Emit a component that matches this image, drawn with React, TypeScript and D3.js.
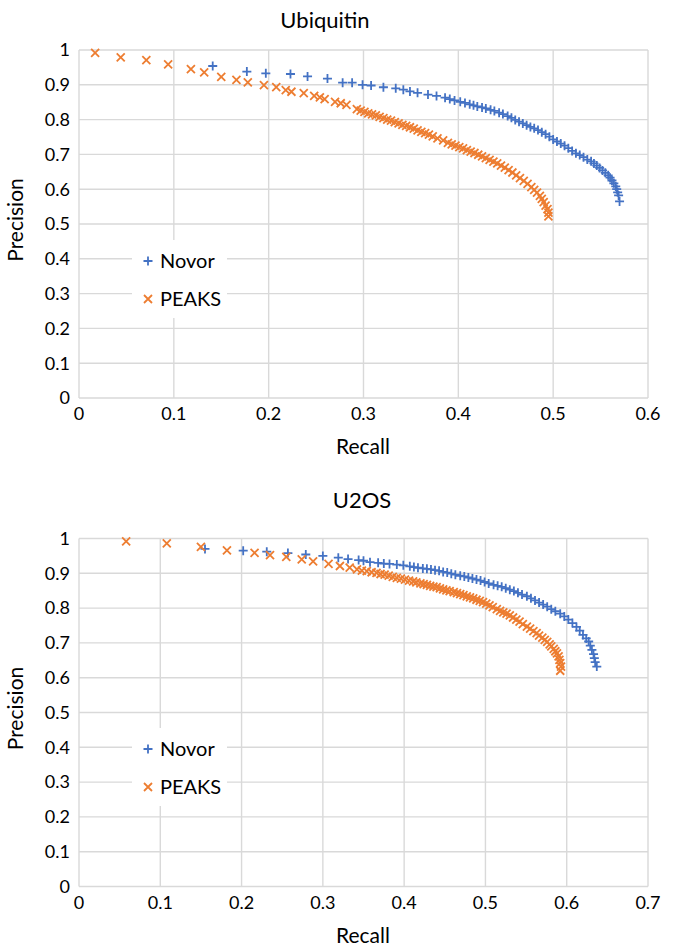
import React from "react";
import * as d3 from "d3";

// ---- Data (recall, precision) ----
const ubiNovor: [number, number][] = [
  [0.141,0.954],[0.177,0.938],[0.197,0.933],[0.223,0.931],[0.241,0.924],[0.262,0.918],[0.278,0.906],[0.288,0.906],
  [0.299,0.900],[0.308,0.898],[0.321,0.893],[0.334,0.890],[0.342,0.886],[0.349,0.881],[0.357,0.877],[0.368,0.872],
  [0.377,0.868],[0.386,0.863],[0.391,0.859],[0.396,0.855],[0.402,0.851],[0.407,0.848],[0.412,0.844],[0.416,0.841],
  [0.420,0.838],[0.425,0.835],[0.429,0.832],[0.434,0.828],[0.438,0.825],[0.443,0.820],[0.447,0.816],[0.452,0.810],
  [0.456,0.805],[0.460,0.799],[0.464,0.794],[0.468,0.789],[0.472,0.784],[0.476,0.779],[0.480,0.775],[0.484,0.770],
  [0.488,0.764],[0.492,0.758],[0.496,0.751],[0.500,0.743],[0.504,0.737],[0.508,0.731],[0.512,0.725],[0.516,0.718],
  [0.520,0.710],[0.524,0.703],[0.528,0.698],[0.532,0.692],[0.536,0.685],[0.540,0.680],[0.543,0.674],[0.546,0.668],
  [0.549,0.661],[0.552,0.654],[0.555,0.647],[0.558,0.640],[0.560,0.633],[0.562,0.625],[0.564,0.617],[0.566,0.608],
  [0.567,0.600],[0.568,0.591],[0.569,0.582],[0.570,0.565],
];

const ubiPeaks: [number, number][] = [
  [0.017,0.992],[0.044,0.979],[0.071,0.971],[0.094,0.959],[0.118,0.945],[0.132,0.936],[0.150,0.923],[0.166,0.914],
  [0.178,0.907],[0.195,0.899],[0.208,0.893],[0.218,0.885],[0.224,0.880],[0.237,0.876],[0.248,0.868],[0.254,0.864],
  [0.259,0.859],[0.270,0.851],[0.276,0.847],[0.282,0.842],[0.293,0.830],[0.297,0.826],[0.301,0.822],[0.305,0.818],
  [0.309,0.815],[0.313,0.812],[0.317,0.808],[0.321,0.804],[0.325,0.800],[0.329,0.797],[0.333,0.793],[0.337,0.789],
  [0.341,0.785],[0.345,0.782],[0.349,0.778],[0.353,0.774],[0.357,0.769],[0.361,0.765],[0.365,0.761],[0.369,0.757],
  [0.373,0.752],[0.378,0.746],[0.384,0.740],[0.389,0.733],[0.393,0.729],[0.397,0.725],[0.401,0.721],[0.405,0.717],
  [0.409,0.712],[0.413,0.708],[0.417,0.704],[0.421,0.699],[0.425,0.694],[0.429,0.689],[0.433,0.684],[0.437,0.679],
  [0.441,0.674],[0.445,0.668],[0.449,0.662],[0.453,0.655],[0.457,0.648],[0.461,0.640],[0.465,0.632],[0.469,0.624],
  [0.473,0.615],[0.477,0.606],[0.480,0.598],[0.483,0.590],[0.486,0.581],[0.488,0.572],[0.490,0.563],[0.492,0.553],
  [0.494,0.543],[0.495,0.533],[0.495,0.522],
];

const u2osNovor: [number, number][] = [
  [0.155,0.970],[0.202,0.965],[0.231,0.962],[0.257,0.958],[0.279,0.954],[0.300,0.950],[0.319,0.945],[0.331,0.941],
  [0.344,0.938],[0.350,0.936],[0.358,0.932],[0.368,0.930],[0.375,0.928],[0.382,0.927],[0.391,0.925],[0.399,0.923],
  [0.407,0.920],[0.412,0.918],[0.417,0.916],[0.423,0.914],[0.428,0.913],[0.433,0.911],[0.438,0.909],[0.443,0.907],
  [0.448,0.904],[0.453,0.902],[0.458,0.899],[0.463,0.896],[0.469,0.893],[0.474,0.891],[0.479,0.888],[0.484,0.885],
  [0.489,0.882],[0.494,0.879],[0.499,0.875],[0.504,0.871],[0.510,0.867],[0.515,0.864],[0.520,0.861],[0.525,0.857],
  [0.530,0.853],[0.535,0.849],[0.540,0.844],[0.545,0.839],[0.551,0.834],[0.556,0.828],[0.561,0.822],[0.566,0.816],
  [0.571,0.810],[0.576,0.804],[0.581,0.797],[0.586,0.791],[0.592,0.784],[0.597,0.776],[0.602,0.767],[0.607,0.757],
  [0.612,0.746],[0.616,0.735],[0.620,0.723],[0.624,0.713],[0.627,0.704],[0.629,0.692],[0.631,0.680],[0.633,0.668],
  [0.634,0.656],[0.635,0.645],[0.637,0.632],
];

const u2osPeaks: [number, number][] = [
  [0.058,0.992],[0.108,0.986],[0.150,0.976],[0.182,0.966],[0.216,0.959],[0.235,0.952],[0.255,0.947],[0.274,0.940],
  [0.288,0.934],[0.307,0.927],[0.321,0.921],[0.333,0.916],[0.342,0.911],[0.348,0.908],[0.354,0.906],[0.360,0.903],
  [0.366,0.901],[0.371,0.898],[0.376,0.896],[0.381,0.893],[0.386,0.890],[0.391,0.887],[0.396,0.885],[0.401,0.882],
  [0.406,0.879],[0.411,0.877],[0.415,0.874],[0.420,0.871],[0.424,0.869],[0.428,0.867],[0.432,0.864],[0.436,0.862],
  [0.440,0.860],[0.444,0.857],[0.448,0.854],[0.452,0.851],[0.456,0.849],[0.461,0.846],[0.465,0.843],[0.469,0.840],
  [0.473,0.837],[0.477,0.834],[0.481,0.831],[0.485,0.828],[0.489,0.824],[0.493,0.821],[0.497,0.817],[0.501,0.813],
  [0.505,0.808],[0.509,0.803],[0.514,0.797],[0.518,0.792],[0.522,0.788],[0.526,0.784],[0.530,0.779],[0.534,0.773],
  [0.538,0.767],[0.542,0.761],[0.546,0.754],[0.551,0.747],[0.555,0.741],[0.559,0.734],[0.563,0.728],[0.566,0.721],
  [0.570,0.715],[0.573,0.709],[0.576,0.703],[0.579,0.696],[0.581,0.690],[0.584,0.683],[0.586,0.676],[0.588,0.670],
  [0.590,0.661],[0.591,0.651],[0.592,0.642],[0.593,0.632],[0.592,0.620],
];

const seriesNames = ["Novor", "PEAKS"];
const chartTitles = ["Ubiquitin", "U2OS"];
const xMaxes = [0.6, 0.7];
const yTicks = [0, 0.1, 0.2, 0.3, 0.4, 0.5, 0.6, 0.7, 0.8, 0.9, 1];

const BLUE = "#4472C4";
const ORANGE = "#ED7D31";
const GRID = "#d9d9d9";
const FONT = "Lato, 'Open Sans', sans-serif";

const fmt = (v: number) => String(+v.toFixed(1));

function Plus({ x, y }: { x: number; y: number }) {
  const s = 4.5;
  return (
    <path d={`M${x - s},${y}H${x + s}M${x},${y - s}V${y + s}`} stroke={BLUE} strokeWidth={1.8} fill="none" />
  );
}
function Cross({ x, y }: { x: number; y: number }) {
  const s = 4;
  return (
    <path d={`M${x - s},${y - s}L${x + s},${y + s}M${x - s},${y + s}L${x + s},${y - s}`} stroke={ORANGE} strokeWidth={1.8} fill="none" />
  );
}

type PanelProps = {
  title: string;
  titleX: number;
  titleY: number;
  top: number;
  bottom: number;
  xMax: number;
  novor: [number, number][];
  peaks: [number, number][];
  legendY: number;
};

function Panel({ title, titleX, titleY, top, bottom, xMax, novor, peaks, legendY }: PanelProps) {
  const left = 79, right = 648;
  const x = d3.scaleLinear().domain([0, xMax]).range([left, right]);
  const y = d3.scaleLinear().domain([0, 1]).range([bottom, top]);
  const xTicks = d3.range(0, Math.round(xMax * 10) + 1).map((i) => i / 10);
  return (
    <g>
      <text x={titleX} y={titleY} textAnchor="middle" fontSize={22} fill="#000" fontFamily={FONT}>{title}</text>
      {yTicks.map((t) => (
        <line key={"gy" + t} x1={left} x2={right} y1={y(t)} y2={y(t)} stroke={GRID} strokeWidth={1.4} />
      ))}
      {xTicks.map((t) => (
        <line key={"gx" + t} x1={x(t)} x2={x(t)} y1={top} y2={bottom} stroke={GRID} strokeWidth={1.4} />
      ))}
      {yTicks.map((t) => (
        <text key={"ty" + t} x={left - 9} y={y(t)} dy="0.35em" textAnchor="end" fontSize={18} fill="#000" fontFamily={FONT}>{fmt(t)}</text>
      ))}
      {xTicks.map((t) => (
        <text key={"tx" + t} x={x(t)} y={bottom + 22} textAnchor="middle" fontSize={18} fill="#000" fontFamily={FONT}>{fmt(t)}</text>
      ))}
      <text x={363} y={bottom + 56} textAnchor="middle" fontSize={21} fill="#000" fontFamily={FONT}>Recall</text>
      <text transform={`translate(23,${(top + bottom) / 2 - 4}) rotate(-90)`} textAnchor="middle" fontSize={21} fill="#000" fontFamily={FONT}>Precision</text>
      {novor.map(([r, p], i) => <Plus key={"n" + i} x={x(r)} y={y(p)} />)}
      {peaks.map(([r, p], i) => <Cross key={"p" + i} x={x(r)} y={y(p)} />)}
      <rect x={132} y={legendY - 21} width={95} height={78} fill="#fff" />
      <Plus x={148} y={legendY} />
      <text x={160} y={legendY} dy="0.35em" fontSize={20} fill="#000" fontFamily={FONT}>{seriesNames[0]}</text>
      <Cross x={148} y={legendY + 38} />
      <text x={160} y={legendY + 38} dy="0.35em" fontSize={20} fill="#000" fontFamily={FONT}>{seriesNames[1]}</text>
    </g>
  );
}

export default function App() {
  return (
    <svg width={675} height={950} style={{ position: "absolute", left: 0, top: 0, background: "#fff" }}>
      <rect width={675} height={950} fill="#fff" />
      <Panel title={chartTitles[0]} titleX={325} titleY={28} top={50} bottom={398} xMax={xMaxes[0]} novor={ubiNovor} peaks={ubiPeaks} legendY={261} />
      <Panel title={chartTitles[1]} titleX={362} titleY={508} top={538.5} bottom={886.5} xMax={xMaxes[1]} novor={u2osNovor} peaks={u2osPeaks} legendY={749} />
    </svg>
  );
}
